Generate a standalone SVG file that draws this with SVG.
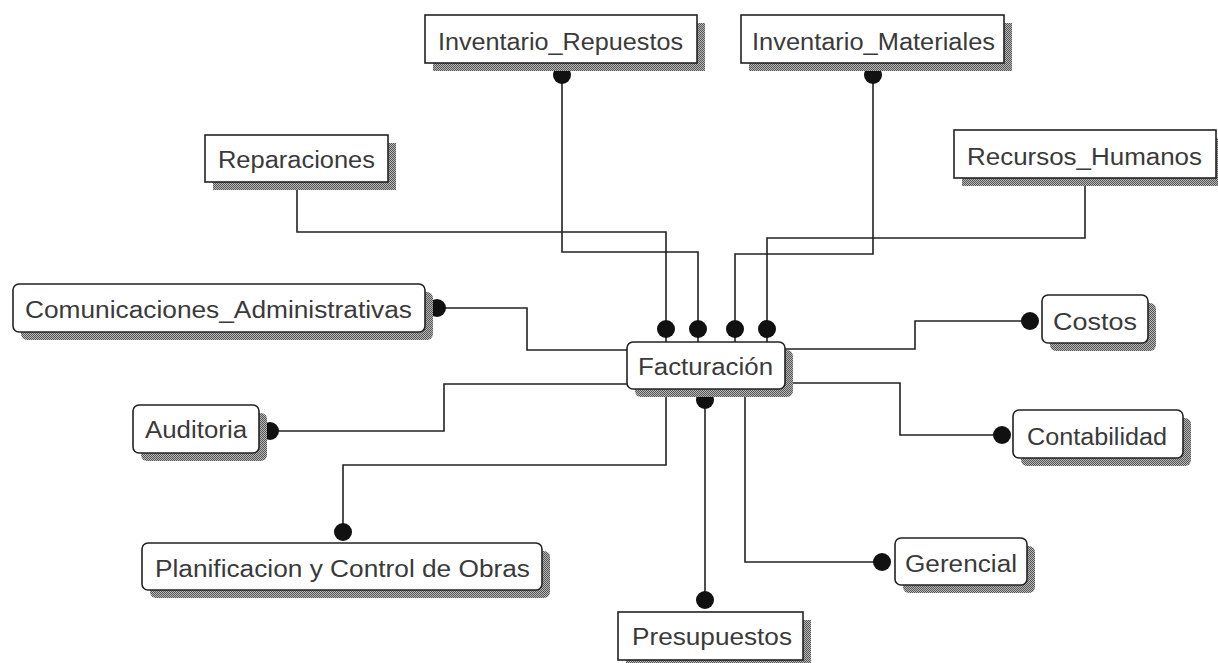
<svg xmlns="http://www.w3.org/2000/svg" width="1218" height="663" viewBox="0 0 1218 663">
<defs>
<pattern id="dith" width="2" height="2" patternUnits="userSpaceOnUse">
<rect width="2" height="2" fill="#b8b8b8"/>
<rect width="1" height="1" fill="#555"/>
<rect x="1" y="1" width="1" height="1" fill="#555"/>
</pattern>
</defs>
<style>
.box{fill:#fff;stroke:#222;stroke-width:1.6}
.sh{fill:url(#dith)}
.t{font-family:"Liberation Sans",Arial,sans-serif;font-size:23.5px;fill:#3a3a3a}
.c{fill:none;stroke:#222;stroke-width:1.6}
.d{fill:#111}
</style>
<rect width="1218" height="663" fill="#fff"/>
<g id="connectors">
<polyline class="c" points="297,182 297,232 666,232 666,342"/>
<polyline class="c" points="562,63 562,252 698,252 698,342"/>
<polyline class="c" points="873,63 873,254 735,254 735,342"/>
<polyline class="c" points="1085,178 1085,238 767,238 767,342"/>
<polyline class="c" points="437,308 527,308 527,350 627,350"/>
<polyline class="c" points="627,384 444,384 444,431 270,431"/>
<polyline class="c" points="785,349 915,349 915,321 1030,321"/>
<polyline class="c" points="785,383 900,383 900,435 1002,435"/>
<polyline class="c" points="666,389 666,465 343,465 343,532"/>
<polyline class="c" points="705,389 705,600"/>
<polyline class="c" points="745,389 745,562 882,562"/>
<circle class="d" cx="562" cy="75" r="9"/>
<circle class="d" cx="873" cy="75" r="9"/>
<circle class="d" cx="666" cy="329" r="9"/>
<circle class="d" cx="698" cy="329" r="9"/>
<circle class="d" cx="735" cy="329" r="9"/>
<circle class="d" cx="767" cy="329" r="9"/>
<circle class="d" cx="437" cy="308" r="9"/>
<circle class="d" cx="270" cy="431" r="9"/>
<circle class="d" cx="1030" cy="321" r="9"/>
<circle class="d" cx="1002" cy="435" r="9"/>
<circle class="d" cx="705" cy="400" r="9"/>
<circle class="d" cx="343" cy="532" r="9"/>
<circle class="d" cx="705" cy="600" r="9"/>
<circle class="d" cx="882" cy="562" r="9"/>
</g>
<g id="inventario_repuestos">
<rect class="sh" x="433" y="23" width="272" height="48"/>
<rect class="box" x="425" y="15" width="272" height="48"/>
<text class="t" x="438" y="50" textLength="245" lengthAdjust="spacingAndGlyphs">Inventario_Repuestos</text>
</g>
<g id="inventario_materiales">
<rect class="sh" x="749" y="23" width="263" height="48"/>
<rect class="box" x="741" y="15" width="263" height="48"/>
<text class="t" x="752" y="50" textLength="243" lengthAdjust="spacingAndGlyphs">Inventario_Materiales</text>
</g>
<g id="reparaciones">
<rect class="sh" x="213" y="143" width="183" height="47"/>
<rect class="box" x="205" y="135" width="183" height="47"/>
<text class="t" x="218" y="168" textLength="157" lengthAdjust="spacingAndGlyphs">Reparaciones</text>
</g>
<g id="recursos_humanos">
<rect class="sh" x="962" y="138" width="256" height="48"/>
<rect class="box" x="954" y="130" width="262" height="48"/>
<text class="t" x="967" y="165" textLength="235" lengthAdjust="spacingAndGlyphs">Recursos_Humanos</text>
</g>
<g id="comunicaciones_administrativas">
<rect class="sh" x="21" y="292" width="412" height="48" rx="6"/>
<rect class="box" x="13" y="284" width="412" height="48" rx="6"/>
<text class="t" x="25" y="318" textLength="387" lengthAdjust="spacingAndGlyphs">Comunicaciones_Administrativas</text>
</g>
<g id="facturacion">
<rect class="sh" x="635" y="350" width="158" height="47" rx="6"/>
<rect class="box" x="627" y="342" width="158" height="47" rx="6"/>
<text class="t" x="638" y="375" textLength="135" lengthAdjust="spacingAndGlyphs">Facturación</text>
</g>
<g id="costos">
<rect class="sh" x="1050" y="303" width="106" height="48" rx="6"/>
<rect class="box" x="1042" y="295" width="106" height="48" rx="6"/>
<text class="t" x="1053" y="330" textLength="84" lengthAdjust="spacingAndGlyphs">Costos</text>
</g>
<g id="contabilidad">
<rect class="sh" x="1021" y="418" width="170" height="48" rx="6"/>
<rect class="box" x="1013" y="410" width="170" height="48" rx="6"/>
<text class="t" x="1027" y="445" textLength="140" lengthAdjust="spacingAndGlyphs">Contabilidad</text>
</g>
<g id="auditoria">
<rect class="sh" x="141" y="413" width="126" height="48" rx="6"/>
<rect class="box" x="133" y="405" width="126" height="48" rx="6"/>
<text class="t" x="145" y="438" textLength="102" lengthAdjust="spacingAndGlyphs">Auditoria</text>
</g>
<g id="planificacion">
<rect class="sh" x="150" y="551" width="400" height="47" rx="6"/>
<rect class="box" x="142" y="543" width="400" height="47" rx="6"/>
<text class="t" x="155" y="577" textLength="375" lengthAdjust="spacingAndGlyphs">Planificacion y Control de Obras</text>
</g>
<g id="presupuestos">
<rect class="sh" x="626" y="620" width="185" height="48"/>
<rect class="box" x="618" y="612" width="185" height="48"/>
<text class="t" x="632" y="645" textLength="160" lengthAdjust="spacingAndGlyphs">Presupuestos</text>
</g>
<g id="gerencial">
<rect class="sh" x="903" y="546" width="132" height="47" rx="6"/>
<rect class="box" x="895" y="538" width="132" height="47" rx="6"/>
<text class="t" x="905" y="572" textLength="112" lengthAdjust="spacingAndGlyphs">Gerencial</text>
</g>
</svg>
